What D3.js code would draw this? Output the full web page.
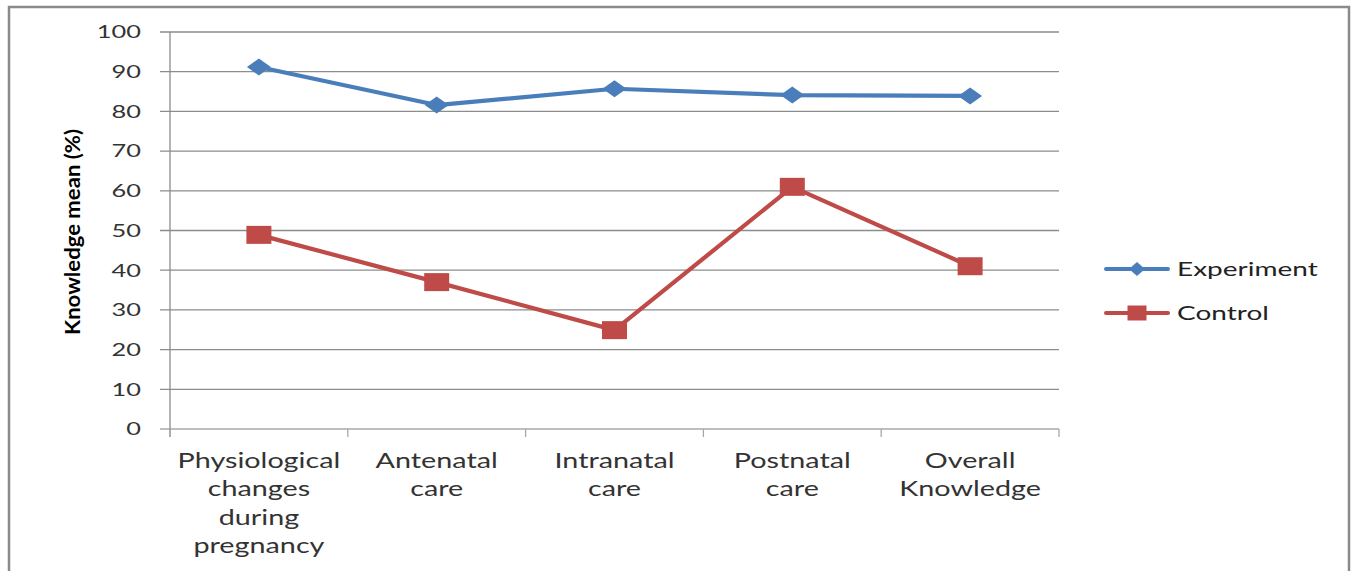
<!DOCTYPE html>
<html><head><meta charset="utf-8">
<script src="https://cdn.jsdelivr.net/npm/d3@7"></script>
<style>body{margin:0;background:#fff}svg{display:block}</style>
</head><body>
<svg id="c" width="1351" height="571"></svg>
<script>
const categories = [["Physiological","changes","during","pregnancy"],["Antenatal","care"],["Intranatal","care"],["Postnatal","care"],["Overall","Knowledge"]];
const experiment = [91.2, 81.6, 85.7, 84.1, 83.9];
const control = [48.9, 37.0, 24.9, 61.0, 41.0];
const yTicks = [0,10,20,30,40,50,60,70,80,90,100];
const seriesNames = ["Experiment","Control"];
const colors = ["#4A7EBB","#BE4B48"];

const svg = d3.select("#c");
const font = "Lato, 'Open Sans', sans-serif";
// outer border
svg.append("path").attr("d","M9,572 V7 H1349 V572").attr("fill","none").attr("stroke","#8a8a8a").attr("stroke-width",2.5);

const x = d3.scaleBand().domain(d3.range(categories.length)).range([170,1059]);
const y = d3.scaleLinear().domain([0,100]).range([429,32]);

// gridlines
svg.append("g").selectAll("line").data(yTicks).join("line")
  .attr("x1",160).attr("x2",1059).attr("y1",d=>y(d)).attr("y2",d=>y(d))
  .attr("stroke",d=>d===0?"#a8a8a8":"#8c8c8c").attr("stroke-width",1.3);
// y axis line
svg.append("line").attr("x1",170).attr("x2",170).attr("y1",32).attr("y2",437).attr("stroke","#8c8c8c").attr("stroke-width",1.3);
// x ticks
svg.append("g").selectAll("line").data(d3.range(categories.length+1)).join("line")
  .attr("x1",d=>170+d*x.step()).attr("x2",d=>170+d*x.step()).attr("y1",429).attr("y2",437)
  .attr("stroke","#a8a8a8").attr("stroke-width",1.3);

// y tick labels
svg.append("g").selectAll("text").data(yTicks).join("text")
  .attr("transform",d=>`translate(141,${y(d)}) scale(1.45,1)`).attr("dy","0.36em").attr("text-anchor","end")
  .attr("font-family",font).attr("font-size",17.5).attr("fill","#333").text(d=>d);

// x labels
const xl = svg.append("g").selectAll("text").data(categories).join("text")
  .attr("text-anchor","middle").attr("font-family",font).attr("font-size",21).attr("fill","#333")
  .attr("transform",(d,i)=>`translate(${x(i)+x.bandwidth()/2},468) scale(1.37,1)`);
xl.selectAll("tspan").data(d=>d).join("tspan").attr("x",0).attr("y",(d,i)=>i*28.5).text(d=>d);

// y title
svg.append("text").attr("transform","translate(80,232) rotate(-90)").attr("text-anchor","middle")
  .attr("font-family",font).attr("font-weight","bold").attr("font-size",21).attr("fill","#000")
  .attr("textLength",206).attr("lengthAdjust","spacingAndGlyphs").text("Knowledge mean (%)");

const line = d3.line().x((d,i)=>x(i)+x.bandwidth()/2).y(d=>y(d));
const series = [experiment, control];
series.forEach((s,k)=>{
  svg.append("path").attr("d",line(s)).attr("fill","none").attr("stroke",colors[k]).attr("stroke-width",4.2).attr("stroke-linejoin","round");
  const g = svg.append("g").selectAll("path").data(s).join("path")
    .attr("transform",(d,i)=>`translate(${x(i)+x.bandwidth()/2},${y(d)})`)
    .attr("fill",colors[k]);
  if(k===0) g.attr("d","M0,-8.5 L12,0 L0,8.5 L-12,0 Z");
  else g.attr("d","M-12.5,-9 H12.5 V9 H-12.5 Z");
});

// legend
const ly = [269,313];
seriesNames.forEach((n,k)=>{
  svg.append("line").attr("x1",1106).attr("x2",1168).attr("y1",ly[k]).attr("y2",ly[k]).attr("stroke",colors[k]).attr("stroke-width",4).attr("stroke-linecap","round");
  svg.append("path").attr("transform",`translate(1137,${ly[k]})`).attr("fill",colors[k])
    .attr("d",k===0?"M0,-7 L8,0 L0,7 L-8,0 Z":"M-9.5,-7.5 H9.5 V7.5 H-9.5 Z");
  svg.append("text").attr("transform",`translate(1177,${ly[k]}) scale(1.4,1)`).attr("dy","0.36em").attr("font-family",font).attr("font-size",20).attr("fill","#222").text(n);
});
</script>
</body></html>
